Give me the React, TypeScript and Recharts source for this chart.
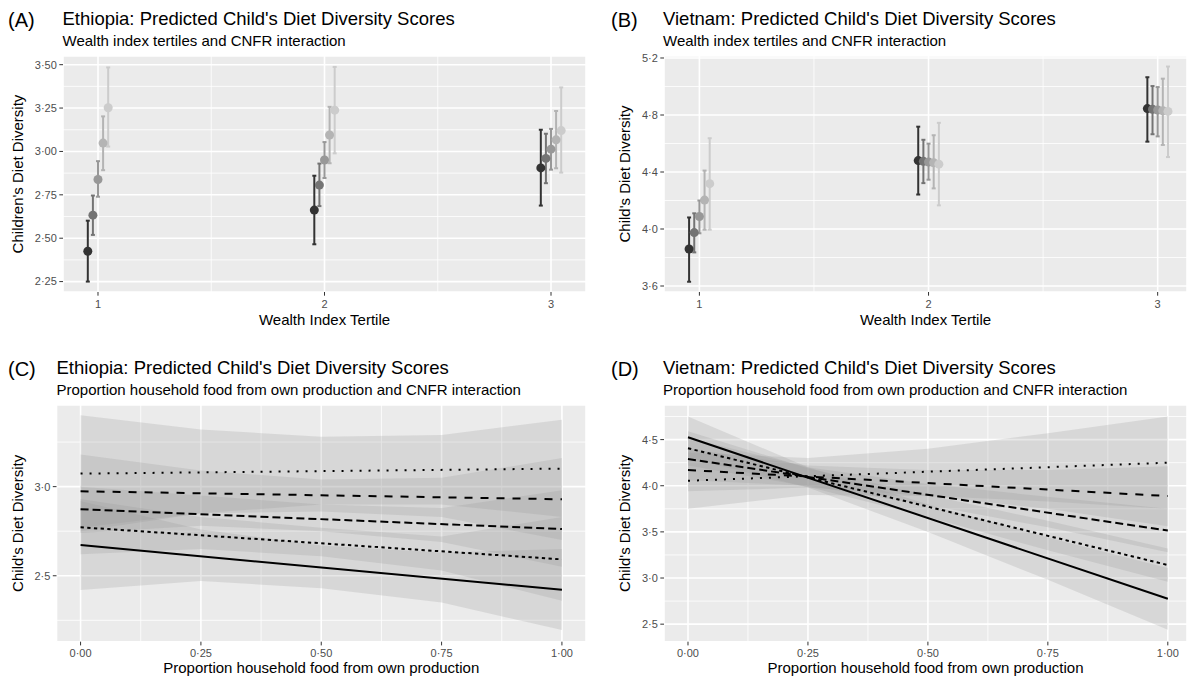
import React from 'react';
import { ComposedChart, Scatter, ErrorBar, Area, Line, XAxis, YAxis, CartesianGrid } from 'recharts';

// CNFR levels, darkest first (ggplot grey scale 0.2 -> 0.8)
const shades = ['#333333', '#747474', '#989898', '#B4B4B4', '#CCCCCC'];
const dodge = [-0.045, -0.0225, 0, 0.0225, 0.045];
const tertiles = [1, 2, 3];

// (A) Ethiopia, rows = CNFR level, cols = wealth tertile
const ethWealthMean = [
  [2.425, 2.662, 2.905],
  [2.633, 2.806, 2.96],
  [2.838, 2.951, 3.013],
  [3.048, 3.095, 3.067],
  [3.252, 3.238, 3.12],
];
const ethWealthLow = [
  [2.25, 2.465, 2.688],
  [2.519, 2.685, 2.817],
  [2.739, 2.847, 2.895],
  [2.892, 2.932, 2.903],
  [3.028, 2.989, 2.878],
];
const ethWealthHigh = [
  [2.601, 2.86, 3.125],
  [2.746, 2.93, 3.102],
  [2.944, 3.054, 3.13],
  [3.202, 3.257, 3.233],
  [3.484, 3.487, 3.369],
];

// (B) Vietnam
const vnWealthMean = [
  [3.86, 4.48, 4.845],
  [3.975, 4.475, 4.84],
  [4.088, 4.47, 4.835],
  [4.203, 4.465, 4.83],
  [4.318, 4.455, 4.825],
];
const vnWealthLow = [
  [3.63, 4.242, 4.613],
  [3.836, 4.322, 4.665],
  [3.97, 4.346, 4.65],
  [3.995, 4.285, 4.59],
  [3.995, 4.166, 4.505],
];
const vnWealthHigh = [
  [4.081, 4.718, 5.065],
  [4.11, 4.626, 5.003],
  [4.2, 4.599, 4.996],
  [4.41, 4.658, 5.055],
  [4.637, 4.745, 5.14],
];

// (C)/(D) proportion of food from own production
const props = [0, 0.25, 0.5, 0.75, 1];
const lineEnds = [0, 1];
const dashes = ['', '3.3 3.4', '8 4', '8 8', '2 7'];

const ethProdLine = [
  [2.672, 2.421],
  [2.772, 2.592],
  [2.873, 2.762],
  [2.974, 2.929],
  [3.073, 3.101],
];
const ethProdLow = [
  [2.42, 2.47, 2.43, 2.35, 2.195],
  [2.62, 2.65, 2.61, 2.53, 2.36],
  [2.74, 2.78, 2.75, 2.69, 2.55],
  [2.77, 2.85, 2.86, 2.83, 2.7],
  [2.75, 2.85, 2.9, 2.9, 2.83],
];
const ethProdHigh = [
  [2.92, 2.76, 2.67, 2.63, 2.65],
  [2.93, 2.83, 2.77, 2.72, 2.83],
  [3.0, 2.95, 2.9, 2.88, 2.98],
  [3.18, 3.09, 3.04, 3.05, 3.16],
  [3.4, 3.32, 3.28, 3.29, 3.375],
];

const vnProdLine = [
  [4.525, 2.775],
  [4.406, 3.141],
  [4.29, 3.514],
  [4.17, 3.888],
  [4.054, 4.25],
];
const vnProdLow = [
  [4.3, 3.98, 3.5, 2.98, 2.44],
  [4.22, 3.99, 3.66, 3.3, 2.96],
  [4.06, 4.0, 3.79, 3.55, 3.28],
  [3.94, 3.98, 3.89, 3.75, 3.56],
  [3.75, 3.9, 3.89, 3.83, 3.75],
];
const vnProdHigh = [
  [4.75, 4.2, 3.8, 3.44, 3.11],
  [4.59, 4.19, 3.9, 3.62, 3.32],
  [4.52, 4.2, 4.02, 3.88, 3.75],
  [4.4, 4.22, 4.17, 4.17, 4.21],
  [4.36, 4.3, 4.4, 4.57, 4.75],
];

const FONT = '"Liberation Sans", Arial, Helvetica, sans-serif';
const BG = '#EBEBEB';
const tickStyle = { fontSize: 11, fill: '#4D4D4D' };
const labelStyle = { fontSize: 15, fill: '#000', textAnchor: 'middle' as const };

const wealthRows = (mean: number[][], low: number[][], high: number[][], k: number) =>
  tertiles.map((t, j) => ({
    x: t + dodge[k],
    y: mean[k][j],
    err: [mean[k][j] - low[k][j], high[k][j] - mean[k][j]],
  }));

const prodRows = (line: number[][], low: number[][], high: number[][]) =>
  props.map((p, i) => {
    const row: any = { x: p };
    line.forEach((l, k) => {
      row['band' + k] = [low[k][i], high[k][i]];
      const e = lineEnds.indexOf(p);
      if (e >= 0) row['line' + k] = l[e];
    });
    return row;
  });

const fmt = (v: number, d: number) => v.toFixed(d).replace('.', '·');

function WealthChart({ left, top, w, h, yW, xDomain, yDomain, yTicks, yMinor, yDec, yLabel, yLabelOff, mean, low, high }: any) {
  return (
    <div style={{ position: 'absolute', left, top }}>
      <ComposedChart width={w} height={h} margin={{ top: 56, right: left > 0 ? 0 : 4, bottom: 8, left: 0 }}>
        <CartesianGrid fill={BG} stroke="#fff" strokeWidth={0.8} horizontalValues={yMinor} verticalValues={[1.5, 2.5]} />
        <CartesianGrid stroke="#fff" strokeWidth={1.6} />
        <XAxis
          type="number"
          dataKey="x"
          domain={xDomain}
          ticks={tertiles}
          allowDataOverflow
          axisLine={false}
          tickSize={3.7}
          tickMargin={4}
          tickLine={{ stroke: '#333333' }}
          tick={tickStyle}
          height={40}
          label={{ value: 'Wealth Index Tertile', position: 'insideBottom', offset: 7, style: labelStyle }}
        />
        <YAxis
          type="number"
          dataKey="y"
          domain={yDomain}
          ticks={yTicks}
          allowDataOverflow
          axisLine={false}
          width={yW}
          tickSize={3.7}
          tickMargin={2.5}
          tickLine={{ stroke: '#333333' }}
          tick={tickStyle}
          tickFormatter={(v: number) => fmt(v, yDec)}
          label={{ value: yLabel, angle: -90, position: 'insideLeft', offset: yLabelOff, style: labelStyle }}
        />
        {shades.map((c, k) => (
          <Scatter
            key={k}
            data={wealthRows(mean, low, high, k)}
            isAnimationActive={false}
            shape={(p: any) => <circle cx={p.cx} cy={p.cy} r={4.5} fill={c} />}
          >
            <ErrorBar dataKey="err" direction="y" width={2} stroke={c} strokeWidth={2} isAnimationActive={false} />
          </Scatter>
        ))}
      </ComposedChart>
    </div>
  );
}

function ProdChart({ left, top, w, h, yW, xDomain, yDomain, yTicks, yMinor, yLabelOff, line, low, high }: any) {
  const rows = prodRows(line, low, high);
  return (
    <div style={{ position: 'absolute', left, top }}>
      <ComposedChart width={w} height={h} data={rows} margin={{ top: 55, right: left > 0 ? 0 : 4, bottom: 3, left: 0 }}>
        <CartesianGrid fill={BG} stroke="#fff" strokeWidth={0.8} horizontalValues={yMinor} verticalValues={[0.125, 0.375, 0.625, 0.875]} />
        <CartesianGrid stroke="#fff" strokeWidth={1.6} />
        <XAxis
          type="number"
          dataKey="x"
          domain={xDomain}
          ticks={props}
          allowDataOverflow
          axisLine={false}
          tickSize={3.7}
          tickMargin={4}
          tickLine={{ stroke: '#333333' }}
          tick={tickStyle}
          tickFormatter={(v: number) => fmt(v, 2)}
          height={38.3}
          label={{ value: 'Proportion household food from own production', position: 'insideBottom', offset: 7, style: labelStyle }}
        />
        <YAxis
          type="number"
          domain={yDomain}
          ticks={yTicks}
          allowDataOverflow
          axisLine={false}
          width={yW}
          tickSize={3.7}
          tickMargin={2.5}
          tickLine={{ stroke: '#333333' }}
          tick={tickStyle}
          tickFormatter={(v: number) => fmt(v, 1)}
          label={{ value: "Child's Diet Diversity", angle: -90, position: 'insideLeft', offset: yLabelOff, style: labelStyle }}
        />
        {line.map((_: any, k: number) => (
          <Area
            key={'b' + k}
            type="linear"
            dataKey={'band' + k}
            stroke="none"
            fill="#999999"
            fillOpacity={0.23}
            isAnimationActive={false}
          />
        ))}
        {line.map((_: any, k: number) => (
          <Line
            key={'l' + k}
            type="linear"
            dataKey={'line' + k}
            stroke="#000"
            strokeWidth={2}
            strokeDasharray={dashes[k] || undefined}
            dot={false}
            activeDot={false}
            connectNulls
            isAnimationActive={false}
          />
        ))}
      </ComposedChart>
    </div>
  );
}

const titles = [
  { tag: '(A)', tx: 8, x: 62.5, y: 0, title: "Ethiopia: Predicted Child's Diet Diversity Scores", sub: 'Wealth index tertiles and CNFR interaction' },
  { tag: '(B)', tx: 611, x: 663, y: 0, title: "Vietnam: Predicted Child's Diet Diversity Scores", sub: 'Wealth index tertiles and CNFR interaction' },
  { tag: '(C)', tx: 8, x: 56.5, y: 348.5, title: "Ethiopia: Predicted Child's Diet Diversity Scores", sub: 'Proportion household food from own production and CNFR interaction' },
  { tag: '(D)', tx: 611, x: 663, y: 348.5, title: "Vietnam: Predicted Child's Diet Diversity Scores", sub: 'Proportion household food from own production and CNFR interaction' },
];

export default function App() {
  return (
    <div style={{ position: 'absolute', left: 0, top: 0, width: 1187, height: 683, background: '#fff', fontFamily: FONT, overflow: 'hidden' }}>
      <WealthChart
        left={0} top={0} w={590} h={340} yW={63}
        xDomain={[0.8455, 3.1545]} yDomain={[2.19, 3.55]}
        yTicks={[2.25, 2.5, 2.75, 3, 3.25, 3.5]} yMinor={[2.375, 2.625, 2.875, 3.125, 3.375]} yDec={2}
        yLabel="Children's Diet Diversity" yLabelOff={18}
        mean={ethWealthMean} low={ethWealthLow} high={ethWealthHigh}
      />
      <WealthChart
        left={600} top={0} w={587} h={340} yW={64}
        xDomain={[0.8455, 3.128]} yDomain={[3.558, 5.214]}
        yTicks={[3.6, 4.0, 4.4, 4.8, 5.2]} yMinor={[3.8, 4.2, 4.6, 5.0]} yDec={1}
        yLabel="Child's Diet Diversity" yLabelOff={25}
        mean={vnWealthMean} low={vnWealthLow} high={vnWealthHigh}
      />
      <ProdChart
        left={0} top={350} w={590} h={333} yW={56.5}
        xDomain={[-0.05, 1.05]} yDomain={[2.13, 3.458]}
        yTicks={[2.5, 3.0]} yMinor={[2.25, 2.75, 3.25]} yLabelOff={18}
        line={ethProdLine} low={ethProdLow} high={ethProdHigh}
      />
      <ProdChart
        left={600} top={350} w={587} h={333} yW={64}
        xDomain={[-0.05, 1.04]} yDomain={[2.31, 4.875]}
        yTicks={[2.5, 3.0, 3.5, 4.0, 4.5]} yMinor={[2.75, 3.25, 3.75, 4.25, 4.75]} yLabelOff={25}
        line={vnProdLine} low={vnProdLow} high={vnProdHigh}
      />
      <svg width={1187} height={683} style={{ position: 'absolute', left: 0, top: 0, pointerEvents: 'none' }}>
        {titles.map((t) => (
          <g key={t.tag}>
            <text x={t.tx} y={t.y + 27} fontSize={20} fill="#000">{t.tag}</text>
            <text x={t.x} y={t.y + 25} fontSize={18.5} fill="#000">{t.title}</text>
            <text x={t.x} y={t.y + 46} fontSize={15} fill="#000">{t.sub}</text>
          </g>
        ))}
      </svg>
    </div>
  );
}
